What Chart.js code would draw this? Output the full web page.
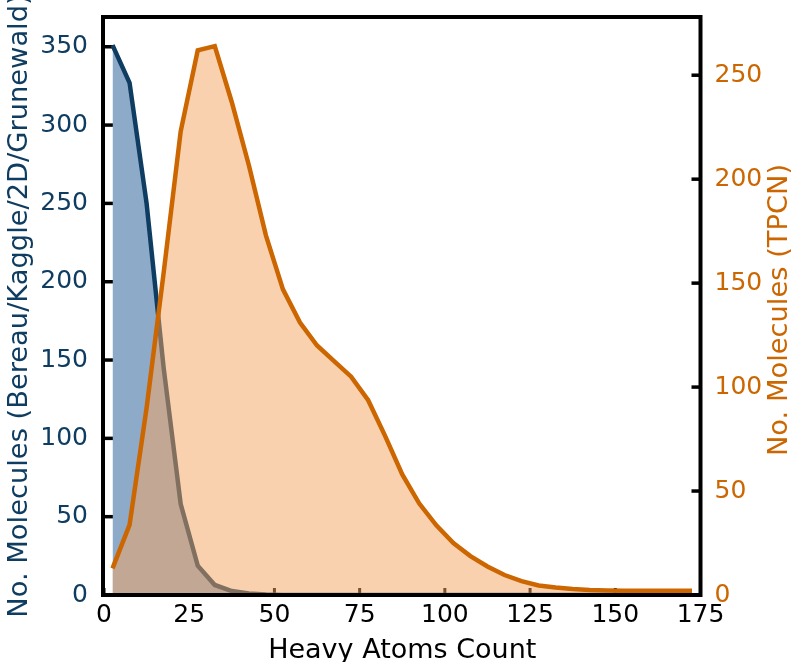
<!DOCTYPE html>
<html>
<head>
<meta charset="utf-8">
<script src="https://cdn.jsdelivr.net/npm/chart.js@4/dist/chart.umd.min.js"></script>
<style>
html,body{margin:0;padding:0;background:#fff;}
canvas{display:block;}
</style>
</head>
<body>
<canvas id="c" width="792" height="662"></canvas>
<script>
// Bin centres (heavy atom count)
const binCenters = [2.5,7.5,12.5,17.5,22.5,27.5,32.5,37.5,42.5,47.5,52.5,57.5,62.5,67.5,72.5,77.5,82.5,87.5,92.5,97.5,102.5,107.5,112.5,117.5,122.5,127.5,132.5,137.5,142.5,147.5,152.5,157.5,162.5,167.5,172.5];
// Bereau/Kaggle/2D/Grunewald counts (left axis)
const bereauCounts = [351,327,250,145,58,18.7,6.4,2.5,1,0.3,0,0,0,0,0,0,0,0,0,0,0,0,0,0,0,0,0,0,0,0,0,0,0,0,0];
// TPCN counts (right axis)
const tpcnCounts = [12.8,33.7,90,155,223,262,264,237,206.7,173,147,131,120,112.5,105,93.7,76.4,58,44,33.5,25,18.7,13.7,9.6,6.7,4.6,3.6,2.9,2.4,2.2,2.1,2,2,2,2];
const xTicks = [0,25,50,75,100,125,150,175];
const leftTicks = [0,50,100,150,200,250,300,350];
const rightTicks = [0,50,100,150,200,250];

const NAVY = '#0f3d61';
const ORANGE = '#cc6600';
const FONT = "'DejaVu Sans', sans-serif";

const toPts = (xs, ys) => xs.map((x, i) => ({x: x, y: ys[i]}));

const frameAndTicks = {
  id: 'frameAndTicks',
  beforeDatasetsDraw(chart) {
    const {ctx, chartArea: a, scales} = chart;
    ctx.save();
    ctx.strokeStyle = '#000';
    ctx.lineWidth = 3.5;
    scales.y.ticks.forEach(t => {
      const p = scales.y.getPixelForValue(t.value);
      ctx.beginPath(); ctx.moveTo(a.left, p); ctx.lineTo(a.left + 9, p); ctx.stroke();
    });
    scales.y1.ticks.forEach(t => {
      const p = scales.y1.getPixelForValue(t.value);
      ctx.beginPath(); ctx.moveTo(a.right, p); ctx.lineTo(a.right - 9, p); ctx.stroke();
    });
    ctx.lineWidth = 3;
    scales.x.ticks.forEach(t => {
      const p = scales.x.getPixelForValue(t.value);
      ctx.beginPath(); ctx.moveTo(p, a.bottom); ctx.lineTo(p, a.bottom - 7); ctx.stroke();
    });
    ctx.restore();
  },
  afterDatasetsDraw(chart) {
    const {ctx, chartArea: a} = chart;
    ctx.save();
    ctx.strokeStyle = '#000';
    ctx.lineWidth = 4;
    ctx.strokeRect(a.left - 1, a.top, a.right - a.left + 1, a.bottom - a.top);
    ctx.restore();
  },
  afterDraw(chart) {
    // right axis title, reading bottom-to-top like the reference
    const {ctx} = chart;
    ctx.save();
    ctx.fillStyle = ORANGE;
    ctx.font = "27.3px 'DejaVu Sans', sans-serif";
    ctx.textAlign = 'center';
    ctx.textBaseline = 'middle';
    ctx.translate(780, 310);
    ctx.rotate(-Math.PI / 2);
    ctx.fillText('No. Molecules (TPCN)', 0, 0);
    ctx.restore();
  }
};

const noPad = s => { s.paddingTop = 0; s.paddingBottom = 0; s.paddingLeft = 0; s.paddingRight = 0; };

new Chart(document.getElementById('c'), {
  type: 'line',
  data: {
    datasets: [
      {
        label: 'Bereau/Kaggle/2D/Grunewald',
        data: toPts(binCenters, bereauCounts),
        yAxisID: 'y',
        borderColor: NAVY,
        backgroundColor: '#8eaac9',
        borderWidth: 4.5,
        fill: 'origin',
        pointRadius: 0,
        tension: 0,
        order: 2
      },
      {
        label: 'TPCN',
        data: toPts(binCenters, tpcnCounts),
        yAxisID: 'y1',
        borderColor: ORANGE,
        backgroundColor: 'rgba(244,164,96,0.5)',
        borderWidth: 4.5,
        fill: 'origin',
        pointRadius: 0,
        tension: 0,
        order: 1
      }
    ]
  },
  options: {
    responsive: false,
    animation: false,
    devicePixelRatio: 1,
    layout: {padding: {top: 17, left: 0, right: 0, bottom: 0}},
    plugins: {legend: {display: false}, tooltip: {enabled: false}},
    scales: {
      x: {
        type: 'linear',
        min: 0, max: 175,
        grid: {display: false},
        border: {display: false},
        afterBuildTicks: s => { s.ticks = xTicks.map(v => ({value: v})); },
        afterFit: s => { s.height = 67; noPad(s); },
        ticks: {color: '#000', font: {family: FONT, size: 25}, padding: -3, maxRotation: 0},
        title: {display: true, text: 'Heavy Atoms Count', color: '#000', font: {family: FONT, size: 27, lineHeight: 1}, padding: {top: 0, bottom: -2}}
      },
      y: {
        position: 'left',
        min: 0, max: 369,
        grid: {display: false},
        border: {display: false},
        afterBuildTicks: s => { s.ticks = leftTicks.map(v => ({value: v})); },
        afterFit: s => { s.width = 104; noPad(s); },
        ticks: {color: NAVY, font: {family: FONT, size: 25}, padding: 8},
        title: {display: true, text: 'No. Molecules (Bereau/Kaggle/2D/Grunewald)', color: NAVY, font: {family: FONT, size: 27.3, lineHeight: 1.2}, padding: {top: 4, bottom: 0}}
      },
      y1: {
        position: 'right',
        min: 0, max: 278,
        grid: {display: false},
        border: {display: false},
        afterBuildTicks: s => { s.ticks = rightTicks.map(v => ({value: v})); },
        afterFit: s => { s.width = 91.5; noPad(s); },
        ticks: {color: ORANGE, font: {family: FONT, size: 25}, padding: 6}
      }
    }
  },
  plugins: [frameAndTicks]
});
</script>
</body>
</html>
